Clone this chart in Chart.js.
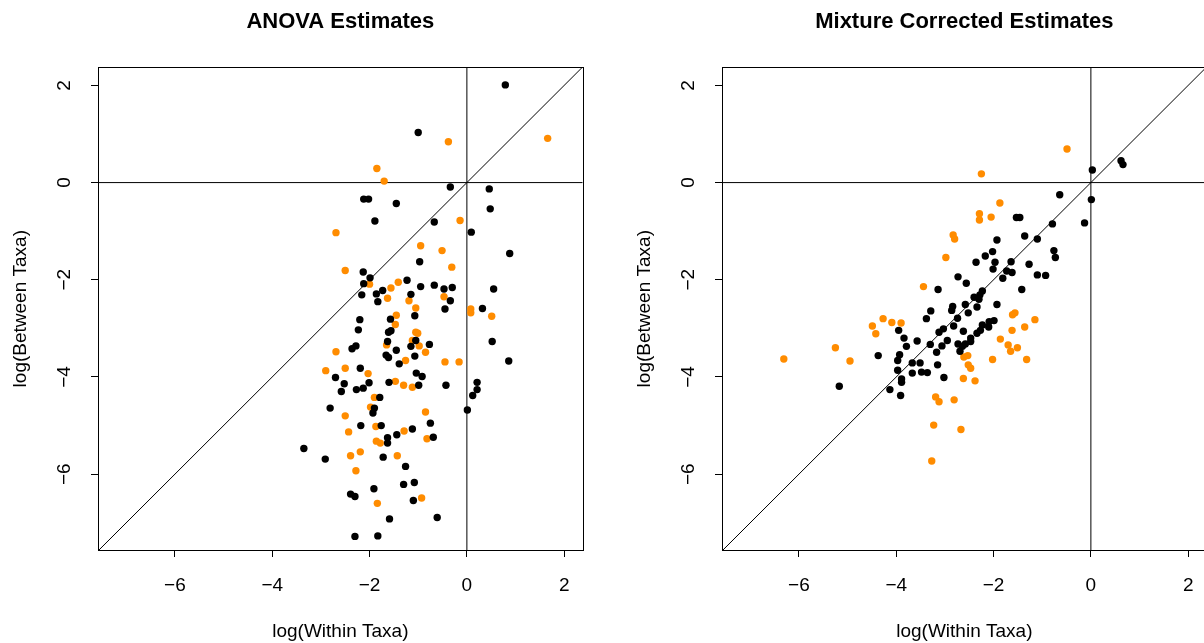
<!DOCTYPE html>
<html>
<head>
<meta charset="utf-8">
<script src="https://cdn.jsdelivr.net/npm/chart.js@4.4.1/dist/chart.umd.min.js"></script>
<style>
  html, body { margin: 0; padding: 0; background: #fff; overflow: hidden; width: 1204px; height: 643px; }
  canvas { position: absolute; top: 0; }
  #anova { left: 0; }
  #mixture { left: 624px; }
</style>
</head>
<body>
<canvas id="anova" width="602" height="643"></canvas>
<canvas id="mixture" width="602" height="643"></canvas>
<script>
// [log(within), log(between)] pairs
const anovaBlack = [
  [0.79, 2.01], [-1.00, 1.03], [-0.34, -0.09], [0.46, -0.13], [-2.12, -0.34], [-2.02, -0.34],
  [-1.45, -0.43], [0.48, -0.54], [-1.89, -0.79], [-0.67, -0.81], [0.09, -1.02], [0.88, -1.46],
  [-0.97, -1.63], [-2.13, -1.84], [-1.99, -1.96], [-2.12, -2.08], [-1.23, -2.01], [-0.95, -2.14],
  [-0.67, -2.11], [-0.47, -2.19], [-0.30, -2.16], [0.55, -2.19], [-2.16, -2.31], [-1.86, -2.29],
  [-1.73, -2.22], [-1.83, -2.45], [-1.15, -2.30], [-0.34, -2.43], [-0.45, -2.60], [0.32, -2.59],
  [-1.07, -2.74], [-2.20, -2.82], [-1.57, -2.81], [-2.23, -3.03], [-1.61, -3.08], [-1.56, -3.05],
  [-1.63, -3.27], [-1.05, -3.25], [-1.15, -3.37], [-0.77, -3.33], [-2.28, -3.36], [-2.36, -3.42],
  [-1.45, -3.45], [-1.66, -3.55], [-1.61, -3.60], [-1.07, -3.57], [-1.39, -3.73], [0.86, -3.67],
  [0.52, -3.27], [-2.19, -3.82], [-2.70, -4.01], [-2.52, -4.14], [-2.58, -4.30], [-2.27, -4.26],
  [-2.13, -4.23], [-2.01, -4.12], [-1.60, -4.11], [-1.04, -3.92], [-0.92, -3.99], [-0.99, -4.17],
  [-0.43, -4.17], [0.21, -4.11], [0.21, -4.26], [0.12, -4.38], [-1.79, -4.42], [-1.90, -4.64],
  [-1.93, -4.74], [-2.81, -4.64], [0.01, -4.68], [-0.75, -4.95], [-2.18, -5.00], [-1.76, -5.00],
  [-1.12, -5.07], [-1.63, -5.25], [-1.63, -5.36], [-1.44, -5.19], [-0.69, -5.24], [-3.35, -5.47],
  [-2.91, -5.69], [-1.72, -5.65], [-1.26, -5.84], [-1.30, -6.21], [-1.08, -6.17], [-1.91, -6.30],
  [-2.39, -6.41], [-2.30, -6.46], [-1.10, -6.54], [-1.59, -6.92], [-0.61, -6.89], [-2.30, -7.28],
  [-1.83, -7.27]
];
const anovaOrange = [
  [-0.38, 0.84], [-1.85, 0.29], [-1.70, 0.03], [1.66, 0.91], [-0.14, -0.78], [-2.69, -1.03],
  [-0.95, -1.30], [-0.51, -1.40], [-2.50, -1.81], [-0.31, -1.74], [-2.00, -2.09], [-1.41, -2.05],
  [-1.56, -2.17], [-1.63, -2.38], [-1.19, -2.43], [-0.47, -2.35], [-1.05, -2.58], [0.08, -2.60],
  [0.08, -2.68], [0.51, -2.75], [-1.45, -2.73], [-1.47, -2.92], [-1.05, -3.08], [-1.01, -3.10],
  [-1.65, -3.34], [-1.12, -3.25], [-0.98, -3.36], [-2.69, -3.48], [-0.85, -3.49], [-1.26, -3.66],
  [-0.45, -3.69], [-0.16, -3.69], [-2.90, -3.87], [-2.50, -3.82], [-2.03, -3.93], [-1.47, -4.09],
  [-1.30, -4.17], [-1.12, -4.21], [-1.90, -4.42], [-1.98, -4.62], [-0.85, -4.72], [-2.50, -4.80],
  [-1.87, -5.02], [-1.29, -5.11], [-2.43, -5.13], [-1.86, -5.32], [-1.78, -5.36], [-0.82, -5.27],
  [-2.39, -5.62], [-2.19, -5.54], [-1.43, -5.62], [-2.28, -5.93], [-1.84, -6.60], [-0.93, -6.49]
];
const mixtureBlack = [
  [0.03, 0.26], [0.62, 0.45], [0.66, 0.37], [-0.64, -0.25], [0.01, -0.35], [-1.53, -0.72],
  [-1.46, -0.72], [-0.13, -0.83], [-0.79, -0.85], [-1.93, -1.18], [-1.36, -1.10], [-1.10, -1.16],
  [-0.76, -1.40], [-0.73, -1.54], [-2.02, -1.42], [-2.17, -1.51], [-1.97, -1.64], [-2.01, -1.78],
  [-2.36, -1.64], [-1.64, -1.63], [-1.73, -1.82], [-1.62, -1.85], [-1.81, -1.97], [-1.27, -1.68],
  [-1.10, -1.90], [-0.93, -1.91], [-2.73, -1.94], [-2.56, -2.07], [-3.14, -2.20], [-1.42, -2.20],
  [-2.23, -2.23], [-2.28, -2.31], [-2.40, -2.36], [-2.30, -2.40], [-2.58, -2.51], [-2.34, -2.56],
  [-2.52, -2.68], [-2.84, -2.55], [-2.86, -2.63], [-2.74, -2.79], [-3.29, -2.64], [-3.38, -2.80],
  [-1.93, -2.51], [-1.99, -2.84], [-2.09, -2.86], [-2.23, -2.93], [-2.10, -2.97], [-2.27, -3.04],
  [-2.34, -3.10], [-2.47, -3.20], [-2.47, -3.27], [-2.62, -3.06], [-2.82, -2.95], [-3.03, -3.01],
  [-3.12, -3.08], [-2.95, -3.25], [-2.73, -3.32], [-2.58, -3.32], [-2.64, -3.37], [-3.95, -3.04],
  [-3.84, -3.20], [-3.57, -3.26], [-3.30, -3.33], [-5.17, -4.19], [-4.37, -3.56], [-3.79, -3.37],
  [-3.17, -3.49], [-3.06, -3.36], [-2.69, -3.47], [-3.93, -3.54], [-3.97, -3.66], [-3.97, -3.86],
  [-3.89, -4.04], [-3.89, -4.11], [-4.13, -4.26], [-3.91, -4.38], [-3.67, -3.71], [-3.51, -3.71],
  [-3.67, -3.92], [-3.48, -3.90], [-3.36, -3.91], [-3.15, -3.75], [-3.02, -4.01]
];
const mixtureOrange = [
  [-0.49, 0.69], [-2.25, 0.18], [-1.87, -0.42], [-2.29, -0.64], [-2.29, -0.77], [-2.05, -0.71],
  [-2.83, -1.08], [-2.80, -1.16], [-2.98, -1.54], [-3.44, -2.14], [-1.56, -2.68], [-1.61, -2.72],
  [-1.15, -2.82], [-1.36, -2.97], [-1.62, -3.04], [-1.86, -3.22], [-1.70, -3.34], [-1.51, -3.40],
  [-4.49, -2.95], [-4.42, -3.11], [-4.27, -2.80], [-4.09, -2.88], [-3.90, -2.89], [-5.25, -3.40],
  [-6.31, -3.63], [-4.95, -3.67], [-2.61, -3.59], [-2.53, -3.56], [-2.52, -3.75], [-2.47, -3.82],
  [-2.62, -4.03], [-2.38, -4.08], [-2.02, -3.64], [-1.65, -3.47], [-1.32, -3.64], [-3.19, -4.41],
  [-3.12, -4.51], [-2.81, -4.47], [-3.23, -4.99], [-2.67, -5.08], [-3.27, -5.73]
];
const tickValues = [-6, -4, -2, 0, 2];
const axisMin = -7.58;
const axisMax = 2.38;

Chart.defaults.font.family = "'Liberation Sans', Arial, Helvetica, sans-serif";
Chart.defaults.color = '#000';

// box around the plot, the two zero lines and the 1:1 line
const framePlugin = {
  id: 'frame',
  beforeDatasetsDraw(chart) {
    const { ctx, chartArea: a, scales: { x, y } } = chart;
    ctx.save();
    ctx.beginPath();
    ctx.rect(a.left, a.top, a.width, a.height);
    ctx.clip();
    ctx.strokeStyle = '#000';
    ctx.lineWidth = 1;
    ctx.beginPath();
    ctx.moveTo(a.left, y.getPixelForValue(0));
    ctx.lineTo(a.right, y.getPixelForValue(0));
    ctx.moveTo(x.getPixelForValue(0), a.top);
    ctx.lineTo(x.getPixelForValue(0), a.bottom);
    ctx.stroke();
    ctx.beginPath();
    ctx.moveTo(x.getPixelForValue(axisMin), y.getPixelForValue(axisMin));
    ctx.lineTo(x.getPixelForValue(axisMax), y.getPixelForValue(axisMax));
    ctx.stroke();
    ctx.restore();
  },
  afterDraw(chart) {
    const { ctx, chartArea: a } = chart;
    ctx.save();
    ctx.strokeStyle = '#000';
    ctx.lineWidth = 1;
    ctx.strokeRect(Math.round(a.left) + 0.5, Math.round(a.top) + 0.5,
      Math.round(a.width), Math.round(a.height));
    ctx.restore();
  }
};

const minus = v => String(v).replace('-', '\u2212');
const toPoints = arr => arr.map(([x, y]) => ({ x, y }));

function makeChart(id, title, black, orange) {
  return new Chart(document.getElementById(id), {
    type: 'scatter',
    data: {
      datasets: [
        { data: toPoints(black), backgroundColor: '#000', pointRadius: 3.7, borderWidth: 0 },
        { data: toPoints(orange), backgroundColor: '#FF8C00', pointRadius: 3.7, borderWidth: 0 }
      ]
    },
    options: {
      responsive: false,
      animation: false,
      devicePixelRatio: 1,
      events: [],
      layout: { padding: { left: 0, right: 19.3, top: 0, bottom: 0 } },
      plugins: {
        legend: { display: false },
        tooltip: { enabled: false },
        title: {
          display: true,
          text: title,
          fullSize: false,
          font: { size: 22, weight: 'bold' },
          padding: { top: 9, bottom: 32 }
        }
      },
      scales: {
        x: {
          type: 'linear',
          min: axisMin,
          max: axisMax,
          afterFit: s => { s.height = 93; },
          afterBuildTicks: s => { s.ticks = tickValues.map(v => ({ value: v })); },
          grid: { drawOnChartArea: false, drawTicks: true, tickLength: 7, tickColor: '#000', tickWidth: 1 },
          border: { display: true, color: '#000', width: 1 },
          ticks: { font: { size: 19 }, padding: 17, maxRotation: 0, callback: v => minus(v) },
          title: { display: true, text: 'log(Within Taxa)', font: { size: 19 }, padding: { top: 0, bottom: 0 } }
        },
        y: {
          type: 'linear',
          min: -7.56,
          max: 2.37,
          afterFit: s => { s.width = 98; },
          afterBuildTicks: s => { s.ticks = tickValues.map(v => ({ value: v })); },
          grid: { drawOnChartArea: false, drawTicks: true, tickLength: 7, tickColor: '#000', tickWidth: 1 },
          border: { display: true, color: '#000', width: 1 },
          ticks: { font: { size: 19 }, padding: 15, minRotation: 90, maxRotation: 90, crossAlign: 'center', callback: v => minus(v) },
          title: { display: true, text: 'log(Between Taxa)', font: { size: 19 }, padding: { top: 9, bottom: 0 } }
        }
      }
    },
    plugins: [framePlugin]
  });
}

makeChart('anova', 'ANOVA Estimates', anovaBlack, anovaOrange);
makeChart('mixture', 'Mixture Corrected Estimates', mixtureBlack, mixtureOrange);
</script>
</body>
</html>
